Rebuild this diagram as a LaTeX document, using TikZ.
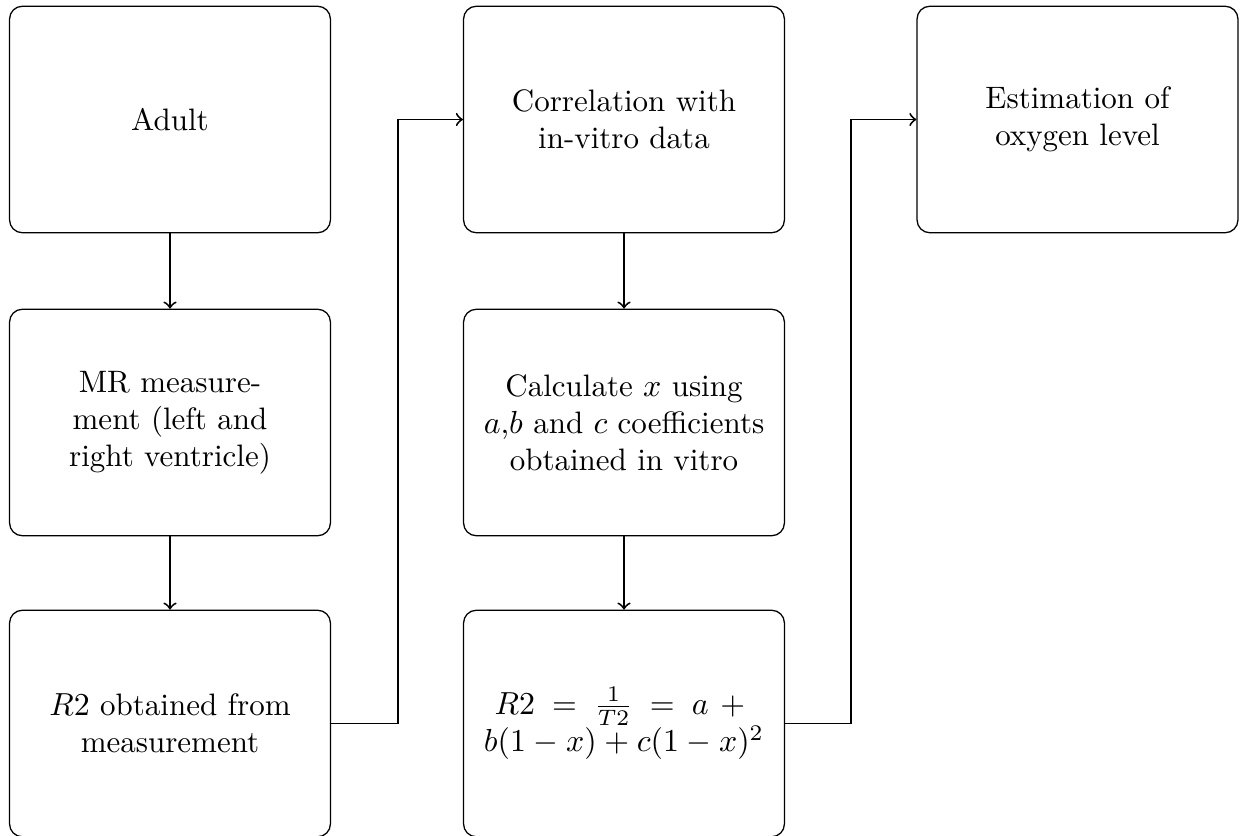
\documentclass[tikz,border=0pt]{standalone}
\usetikzlibrary{calc}
\begin{document}
\begin{tikzpicture}[x=0.3135pt,y=-0.3135pt,
  box/.style={draw,rounded corners,align=center,text width=3.3cm,inner sep=3.33pt,
    minimum width=100.6pt,minimum height=71pt,line width=0.4pt,
    font=\fontsize{9.72}{11.66}\selectfont},
  arr/.style={->,semithick}]
\useasboundingbox (0,0) rectangle (1246,836);
\node[box] (adult) at (170,119.5) {Adult};
\node[box] (mr) at (170,422.5) {MR measure-\\ment (left and\\right ventricle)};
\node[box] (r2) at (170,723.5) {$R2$ obtained from\\measurement};
\node[box] (corr) at (624,119.5) {Correlation with\\in-vitro data};
\node[box] (calc) at (624,422.5) {Calculate $x$ using\\$a$,$b$ and $c$ coefficients\\obtained in vitro};
\node[box] (eq) at (624,723.5) {$R2\mskip3mu=\mskip3mu\frac{1}{T2}\mskip3mu=\mskip3mu a\mskip2mu+{}$\\$b(1-x)+c(1-x)^2$};
\node[box] (est) at (1077.5,119.5) {Estimation of\\oxygen level};
\coordinate (m1) at (398,0);
\coordinate (m2) at (851,0);
\draw[arr] (adult) -- (mr);
\draw[arr] (mr) -- (r2);
\draw[arr] (corr) -- (calc);
\draw[arr] (calc) -- (eq);
\draw[arr] (r2.east) -- (r2.east -| m1) |- (corr.west);
\draw[arr] (eq.east) -- (eq.east -| m2) |- (est.west);
\end{tikzpicture}
\end{document}
